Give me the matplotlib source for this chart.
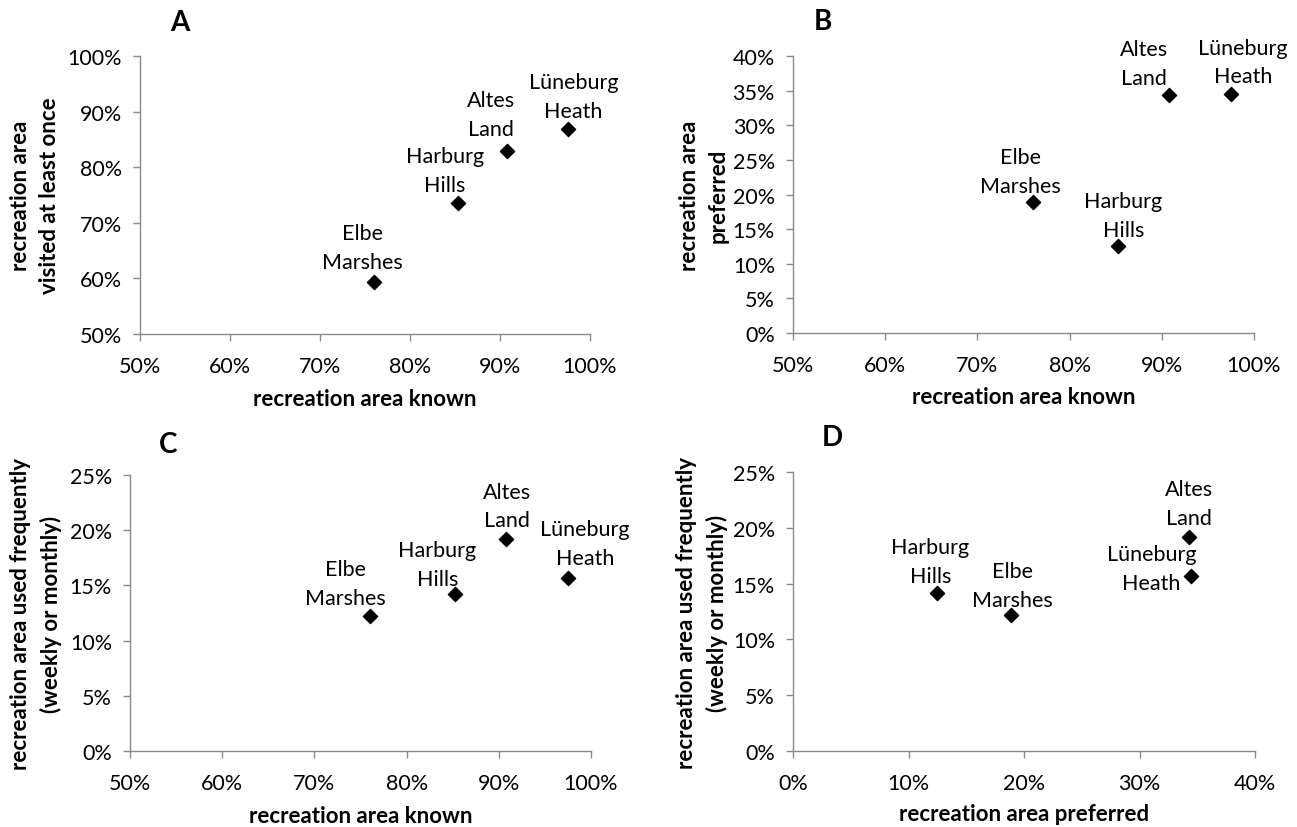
import matplotlib
matplotlib.use("Agg")
import matplotlib.pyplot as plt
from matplotlib.ticker import FuncFormatter, MultipleLocator

plt.rcParams['font.family'] = ['Lato', 'DejaVu Sans']

# datos (en %)
areas = ["Elbe\nMarshes", "Harburg\nHills", "Altes\nLand", "Lüneburg\nHeath"]
known = [76.0, 85.3, 90.8, 97.5]
visited = [59.3, 73.5, 83.0, 86.8]
preferred = [18.9, 12.5, 34.3, 34.5]
frequent = [12.2, 14.2, 19.2, 15.7]

W, H = 1297, 828
fig = plt.figure(figsize=(W / 100, H / 100), dpi=100)
GRIS = "#898989"


def caja(x0, x1, y0, y1):
    # pixeles -> fracciones de figura
    return [x0 / W, 1 - y1 / H, (x1 - x0) / W, (y1 - y0) / H]


def panel(rect, xs, ys, xlim, ylim, xstep, ystep, offsets):
    ax = fig.add_axes(caja(*rect))
    ax.scatter(xs, ys, marker="D", s=52, color="black", zorder=3)
    ax.set_xlim(*xlim)
    ax.set_ylim(*ylim)
    ax.xaxis.set_major_locator(MultipleLocator(xstep))
    ax.yaxis.set_major_locator(MultipleLocator(ystep))
    fmt = FuncFormatter(lambda v, p: f"{v:.0f}%")
    ax.xaxis.set_major_formatter(fmt)
    ax.yaxis.set_major_formatter(fmt)
    for s in ["top", "right"]:
        ax.spines[s].set_visible(False)
    for s in ["left", "bottom"]:
        ax.spines[s].set_color(GRIS)
        ax.spines[s].set_linewidth(1.0)
    ax.tick_params(colors=GRIS, labelcolor="black", length=5, width=1.0,
                   labelsize=15.5)
    ax.tick_params(axis="x", pad=11)
    ax.tick_params(axis="y", pad=8)
    for nombre, x, y, (dx, dy) in zip(areas, xs, ys, offsets):
        ax.annotate(nombre, (x, y), xytext=(dx, dy), textcoords="offset pixels",
                    ha="center", va="center", fontsize=15.5, linespacing=1.55)
    return ax


def texto(x, y, s, **kw):
    fig.text(x / W, 1 - y / H, s, ha="center", va="center", **kw)


# A
panel((140, 590, 57, 335), known, visited, (50, 100), (50, 100), 10, 10,
      [(-12, 35), (-13, 33), (-16, 36), (6, 33)])
# B
panel((793, 1254, 57, 334), known, preferred, (50, 100), (0, 40), 10, 5,
      [(-12, 31), (5, 31), (-25, 32), (12, 32)])
# C
panel((130, 591, 476, 752), known, frequent, (50, 100), (0, 25), 10, 5,
      [(-24, 33), (-18, 30), (1, 33), (17, 34)])
# D
panel((793, 1255, 473, 752), preferred, frequent, (0, 40), (0, 25), 10, 5,
      [(1, 29), (-7, 31), (0, 33), (-40, 7)])

etiq = dict(fontsize=16, fontweight="bold", linespacing=1.45)
texto(365, 400, "recreation area known", **etiq)
texto(1024, 398, "recreation area known", **etiq)
texto(361, 817, "recreation area known", **etiq)
texto(1024, 815, "recreation area preferred", **etiq)
texto(35, 196, "recreation area\nvisited at least once", rotation=90, **etiq)
texto(704, 196, "recreation area\npreferred", rotation=90, **etiq)
texto(36, 614, "recreation area used frequently\n(weekly or monthly)", rotation=90, **etiq)
texto(702, 613, "recreation area used frequently\n(weekly or monthly)", rotation=90, **etiq)

letra = dict(fontsize=20, fontweight="bold")
texto(180, 23, "A", **letra)
texto(823, 22, "B", **letra)
texto(168, 445, "C", **letra)
texto(832, 438, "D", **letra)

fig.savefig("out.png", dpi=100, facecolor="white")
